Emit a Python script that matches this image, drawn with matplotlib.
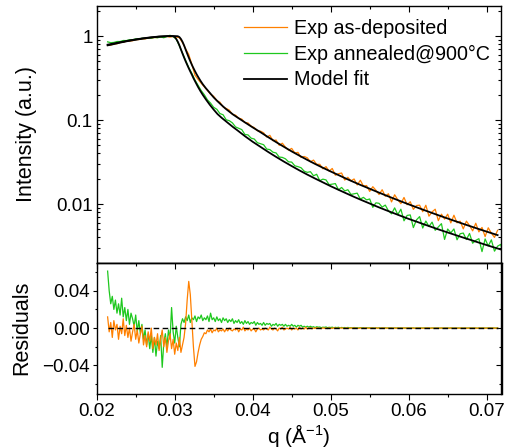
import numpy as np
import matplotlib
matplotlib.use("Agg")
import matplotlib.pyplot as plt
from matplotlib.ticker import MultipleLocator, LogLocator, FixedLocator, NullFormatter, FuncFormatter

# ---------------- data ----------------
q_start = 0.0214
q_step = 0.0004          # grid of the intensity data
q_step_res = 0.0002      # grid of the residuals
n_orange = 126
n_green = 129
n_res = 251

# experimental intensities, log10(I)
orange_log10_I = [
    -0.105, -0.108, -0.094, -0.092, -0.077, -0.074, -0.060, -0.059, -0.056, -0.043,
    -0.042, -0.033, -0.034, -0.025, -0.025, -0.017, -0.018, -0.008, -0.011, -0.005,
    -0.012, -0.005, -0.012, -0.019, -0.079, -0.152, -0.219, -0.338, -0.466, -0.516,
    -0.562, -0.605, -0.647, -0.693, -0.718, -0.768, -0.788, -0.843, -0.862, -0.882,
    -0.932, -0.942, -0.978, -0.989, -1.030, -1.035, -1.073, -1.090, -1.128, -1.132,
    -1.152, -1.203, -1.182, -1.246, -1.238, -1.301, -1.276, -1.323, -1.358, -1.338,
    -1.393, -1.385, -1.446, -1.434, -1.450, -1.497, -1.477, -1.528, -1.527, -1.581,
    -1.555, -1.608, -1.577, -1.657, -1.639, -1.631, -1.715, -1.682, -1.724, -1.702,
    -1.773, -1.717, -1.787, -1.780, -1.850, -1.794, -1.836, -1.887, -1.830, -1.908,
    -1.878, -1.975, -1.890, -1.949, -1.996, -1.922, -2.009, -1.973, -2.064, -2.018,
    -2.014, -2.092, -2.015, -2.145, -2.094, -2.062, -2.198, -2.121, -2.180, -2.121,
    -2.225, -2.134, -2.224, -2.205, -2.296, -2.204, -2.256, -2.320, -2.229, -2.332,
    -2.279, -2.388, -2.283, -2.347, -2.398, -2.313,
]

green_log10_I = [
    -0.069, -0.079, -0.076, -0.065, -0.065, -0.053, -0.054, -0.044, -0.044, -0.034,
    -0.036, -0.026, -0.030, -0.021, -0.025, -0.016, -0.020, -0.011, -0.020, -0.006,
    0.009, -0.006, -0.036, -0.117, -0.202, -0.290, -0.375, -0.444, -0.524, -0.586,
    -0.650, -0.699, -0.760, -0.799, -0.849, -0.872, -0.923, -0.937, -0.997, -1.008,
    -1.034, -1.082, -1.098, -1.114, -1.172, -1.177, -1.216, -1.226, -1.270, -1.282,
    -1.294, -1.346, -1.352, -1.383, -1.392, -1.441, -1.445, -1.462, -1.498, -1.501,
    -1.545, -1.555, -1.568, -1.609, -1.623, -1.615, -1.664, -1.646, -1.722, -1.704,
    -1.713, -1.770, -1.764, -1.757, -1.831, -1.803, -1.844, -1.830, -1.886, -1.879,
    -1.871, -1.941, -1.921, -1.951, -1.940, -2.040, -1.986, -1.992, -2.037, -2.013,
    -2.081, -2.117, -2.046, -2.126, -2.062, -2.200, -2.136, -2.130, -2.281, -2.189,
    -2.150, -2.286, -2.203, -2.268, -2.216, -2.313, -2.274, -2.234, -2.422, -2.298,
    -2.343, -2.297, -2.426, -2.354, -2.346, -2.423, -2.351, -2.467, -2.433, -2.413,
    -2.567, -2.416, -2.500, -2.427, -2.562, -2.502, -2.481, -2.626, -2.524,
]

# model fits
qA = [0.0214, 0.0220, 0.0230, 0.0240, 0.0250, 0.0260, 0.0270, 0.0280, 0.0290, 0.0300,
      0.0304, 0.0306, 0.0308, 0.0310, 0.0312, 0.0314, 0.0316, 0.0318, 0.0320, 0.0322,
      0.0324, 0.0326, 0.0328, 0.0330, 0.0333, 0.0336, 0.0340, 0.0345, 0.0350, 0.0355,
      0.0360, 0.0365, 0.0370, 0.0375, 0.0380, 0.0390, 0.0400, 0.0410, 0.0420, 0.0430,
      0.0440, 0.0450, 0.0460, 0.0470, 0.0480, 0.0490, 0.0500, 0.0510, 0.0520, 0.0530,
      0.0540, 0.0550, 0.0560, 0.0570, 0.0580, 0.0590, 0.0600, 0.0610, 0.0620, 0.0630,
      0.0640, 0.0650, 0.0660, 0.0670, 0.0680, 0.0690, 0.0700, 0.0710, 0.0714]
IA = [0.775, 0.795, 0.835, 0.872, 0.905, 0.935, 0.962, 0.983, 0.996, 1.000,
      0.995, 0.973, 0.923, 0.855, 0.776, 0.692, 0.619, 0.556, 0.501, 0.455,
      0.416, 0.382, 0.352, 0.327, 0.294, 0.267, 0.239, 0.211, 0.186, 0.167,
      0.151, 0.137, 0.126, 0.116, 0.108, 0.0938, 0.0817, 0.0716, 0.0624, 0.0546,
      0.0480, 0.0423, 0.0376, 0.0335, 0.0300, 0.0270, 0.0244, 0.0221, 0.0200, 0.0182,
      0.0166, 0.0152, 0.0139, 0.01273, 0.0117, 0.01076, 0.00991, 0.00915, 0.00845, 0.00782,
      0.00724, 0.00672, 0.00624, 0.00580, 0.00540, 0.00503, 0.00469, 0.00438, 0.00426]

qB = [0.0214, 0.0220, 0.0230, 0.0240, 0.0250, 0.0260, 0.0270, 0.0280, 0.0290, 0.0294,
      0.0298, 0.0300, 0.0302, 0.0304, 0.0306, 0.0308, 0.0310, 0.0312, 0.0314, 0.0316,
      0.0318, 0.0320, 0.0322, 0.0324, 0.0327, 0.0330, 0.0333, 0.0336, 0.0340, 0.0345,
      0.0350, 0.0355, 0.0360, 0.0367, 0.0375, 0.0380, 0.0390, 0.0400, 0.0410, 0.0420,
      0.0430, 0.0440, 0.0450, 0.0460, 0.0470, 0.0480, 0.0490, 0.0500, 0.0510, 0.0520,
      0.0530, 0.0540, 0.0550, 0.0560, 0.0570, 0.0580, 0.0590, 0.0600, 0.0610, 0.0620,
      0.0630, 0.0640, 0.0650, 0.0660, 0.0670, 0.0680, 0.0690, 0.0700, 0.0710, 0.0720,
      0.0726]
IB = [0.790, 0.810, 0.845, 0.880, 0.912, 0.942, 0.967, 0.987, 0.998, 1.000,
      0.995, 0.973, 0.923, 0.855, 0.776, 0.692, 0.619, 0.556, 0.501, 0.455,
      0.414, 0.378, 0.347, 0.316, 0.279, 0.247, 0.221, 0.1995, 0.176, 0.152,
      0.133, 0.1175, 0.1067, 0.0944, 0.0822, 0.0759, 0.0643, 0.0551, 0.0479, 0.0416,
      0.0364, 0.0320, 0.0283, 0.0251, 0.0224, 0.0201, 0.0181, 0.0163, 0.01476, 0.01339,
      0.01216, 0.01109, 0.01014, 0.00927, 0.00851, 0.00783, 0.00721, 0.00665, 0.00617, 0.00571,
      0.00530, 0.00492, 0.00458, 0.00427, 0.00398, 0.00372, 0.00347, 0.00324, 0.00303, 0.00284,
      0.00272]

# residuals
orange_resid = [
    0.012, -0.004, 0.006, -0.010, 0.008, -0.002, 0.004, -0.012, 0.002, -0.006,
    0.010, -0.008, 0.003, -0.010, 0.000, -0.014, -0.004, 0.004, -0.012, -0.002,
    -0.016, -0.006, 0.002, -0.018, -0.008, -0.020, -0.004, -0.014, 0.000, -0.022,
    -0.010, -0.018, -0.006, -0.024, -0.012, -0.002, -0.020, -0.010, -0.026, -0.014,
    -0.006, -0.022, -0.012, -0.028, -0.016, -0.024, -0.010, -0.026, -0.018, -0.010,
    0.005, 0.030, 0.050, 0.036, 0.008, -0.020, -0.041, -0.036, -0.026, -0.018,
    -0.012, -0.009, -0.005, -0.006, -0.002, -0.004, -0.001, -0.005, -0.002, -0.003,
    0.000, -0.004, -0.002, -0.003, -0.001, -0.004, -0.001, -0.003, 0.000, -0.002,
    -0.003, -0.001, -0.002, 0.000, -0.004, -0.001, -0.002, 0.001, -0.003, -0.001,
    -0.002, 0.000, -0.003, -0.001, -0.001, -0.004, -0.001, 0.000, -0.002, -0.001,
    -0.002, 0.000, -0.001, -0.002, 0.001, -0.001, -0.002, 0.000, -0.001, -0.003,
    0.000, -0.001, 0.001, -0.002, -0.001, 0.000, -0.001, 0.001, -0.002, 0.000,
    -0.001, 0.000, -0.002, 0.001, -0.001, 0.000, -0.001, 0.001, -0.001, 0.000,
    0.0005, -0.0008, 0.0002, -0.0004, 0.0006, -0.0002, 0.0000, -0.0006, 0.0004, -0.0003,
    0.0002, -0.0005, 0.0003, 0.0000, -0.0004, 0.0005, -0.0002, 0.0001, -0.0003, 0.0004,
    -0.0001, 0.0002, -0.0004, 0.0003, 0.0000, -0.0003, 0.0002, -0.0001, 0.0003, -0.0002,
    0.0001, -0.0003, 0.0002, 0.0000, -0.0002, 0.0003, -0.0001, 0.0001, -0.0002, 0.0002,
    0.0000, -0.0002, 0.0003, -0.0001, 0.0001, -0.0002, 0.0002, 0.0000, -0.0001, 0.0002,
    -0.0002, 0.0001, 0.0000, -0.0001, 0.0002, -0.0002, 0.0001, 0.0000, -0.0001, 0.0001,
    0.0002, -0.0001, 0.0000, 0.0001, -0.0002, 0.0001, 0.0000, -0.0001, 0.0001, -0.0001,
    0.0001, 0.0000, -0.0001, 0.0001, -0.0001, 0.0002, 0.0000, -0.0001, 0.0001, 0.0000,
    -0.0001, 0.0001, 0.0000, -0.0001, 0.0001, 0.0000, -0.0001, 0.0001, 0.0000, -0.0001,
    0.0001, 0.0000, -0.0001, 0.0001, 0.0000, -0.0001, 0.0001, 0.0000, -0.0001, 0.0001,
    0.0000, -0.0001, 0.0001, 0.0000, -0.0001, 0.0001, 0.0000, -0.0001, 0.0001, 0.0000,
    -0.0001, 0.0001, 0.0000, -0.0001, 0.0001, 0.0000, -0.0001, 0.0001, 0.0000, -0.0001,
    0.0001,
]
green_resid = [
    0.061, 0.040, 0.026, 0.034, 0.020, 0.030, 0.016, 0.026, 0.014, 0.032,
    0.012, 0.022, 0.008, 0.020, 0.004, 0.016, 0.010, 0.002, 0.014, -0.004,
    0.008, -0.006, 0.004, -0.012, -0.002, -0.018, -0.006, -0.022, -0.008, -0.026,
    -0.010, -0.030, -0.014, -0.022, -0.008, -0.042, -0.016, -0.006, -0.020, -0.002,
    -0.012, 0.022, -0.004, -0.016, 0.002, -0.010, -0.020, 0.004, 0.010, 0.006,
    0.012, 0.008, 0.014, 0.006, 0.011, 0.009, 0.013, 0.007, 0.012, 0.010,
    0.014, 0.008, 0.011, 0.009, 0.013, 0.007, 0.016, 0.009, 0.011, 0.007,
    0.012, 0.008, 0.010, 0.006, 0.011, 0.008, 0.010, 0.006, 0.009, 0.007,
    0.010, 0.005, 0.008, 0.006, 0.009, 0.005, 0.007, 0.004, 0.008, 0.005,
    0.007, 0.004, 0.006, 0.005, 0.007, 0.003, 0.006, 0.004, 0.005, 0.003,
    0.006, 0.003, 0.005, 0.004, 0.005, 0.002, 0.004, 0.003, 0.005, 0.002,
    0.004, 0.003, 0.004, 0.002, 0.004, 0.002, 0.003, 0.002, 0.004, 0.002,
    0.003, 0.001, 0.003, 0.002, 0.003, 0.001, 0.002, 0.001, 0.002, 0.001,
    0.002, 0.001, 0.0015, 0.0005, 0.0015, 0.001, 0.0012, 0.0004, 0.001, 0.0008,
    0.0012, 0.0004, 0.0009, 0.0006, 0.001, 0.0003, 0.0008, 0.0005, 0.0009, 0.0002,
    0.0007, 0.0004, 0.0006, 0.0002, 0.0007, 0.0003, 0.0005, 0.0001, 0.0006, 0.0003,
    0.0004, 0.0001, 0.0005, 0.0002, 0.0004, 0.0000, 0.0004, 0.0002, 0.0003, 0.0001,
    0.0003, 0.0000, 0.0003, 0.0001, 0.0003, 0.0000, 0.0002, 0.0001, 0.0003, 0.0000,
    0.0002, 0.0001, 0.0002, -0.0001, 0.0002, 0.0001, 0.0002, 0.0000, 0.0002, 0.0000,
    0.0001, 0.0002, 0.0000, 0.0001, 0.0001, 0.0000, 0.0002, -0.0001, 0.0001, 0.0001,
    0.0000, 0.0001, 0.0001, 0.0000, 0.0001, 0.0000, 0.0001, -0.0001, 0.0001, 0.0000,
    0.0001, 0.0000, 0.0001, 0.0000, 0.0001, -0.0001, 0.0001, 0.0000, 0.0001, 0.0000,
    0.0001, 0.0000, 0.0000, 0.0001, 0.0000, 0.0001, -0.0001, 0.0001, 0.0000, 0.0001,
    0.0000, 0.0001, 0.0000, 0.0000, 0.0001, 0.0000, 0.0001, -0.0001, 0.0001, 0.0000,
    0.0001, 0.0000, 0.0000, 0.0001, 0.0000, 0.0001, 0.0000, 0.0000, 0.0001, 0.0000,
    0.0001,
]

labels = ["Exp as-deposited", "Exp annealed@900°C", "Model fit"]
y_major = [0.01, 0.1, 1]

ORANGE = "#FF8000"
GREEN = "#1EC81E"

# ---------------- figure ----------------
plt.rcParams["font.family"] = ["Liberation Sans", "DejaVu Sans"]
plt.rcParams["mathtext.fontset"] = "custom"
plt.rcParams["mathtext.rm"] = "Liberation Sans"
plt.rcParams["mathtext.it"] = "Liberation Sans:italic"
plt.rcParams["axes.linewidth"] = 1.0

q_orange = np.round(q_start + q_step * np.arange(n_orange), 5)
q_green = np.round(q_start + q_step * np.arange(n_green), 5)
q_res = np.round(q_start + q_step_res * np.arange(n_res), 5)

TICK_FS = 13.5
LEG_FS = 14.2
LAB_FS = 15.5

W, H = 510, 448
fig = plt.figure(figsize=(W / 100, H / 100), dpi=100)
xl, xr = 96.7 / W, 501.5 / W
y_top, y_mid, y_bot = 6.0, 262.7, 393.5
ax1 = fig.add_axes([xl, 1 - y_mid / H, xr - xl, (y_mid - y_top) / H])
ax2 = fig.add_axes([xl, 1 - y_bot / H, xr - xl, (y_bot - y_mid) / H])

l1, = ax1.plot(q_orange, 10 ** np.array(orange_log10_I), color=ORANGE, lw=0.9)
l2, = ax1.plot(q_green, 10 ** np.array(green_log10_I), color=GREEN, lw=0.9)
l3, = ax1.plot(qA, IA, color="black", lw=1.3)
ax1.plot(qB, IB, color="black", lw=1.3)

ax1.set_yscale("log")
ax1.set_xlim(0.02, 0.0719)
ax1.set_ylim(0.002, 2.28)
ax1.yaxis.set_major_locator(FixedLocator(y_major))
ax1.yaxis.set_major_formatter(FuncFormatter(lambda v, p: f"{v:g}"))
ax1.yaxis.set_minor_locator(LogLocator(base=10, subs=np.arange(2, 10)))
ax1.yaxis.set_minor_formatter(NullFormatter())
ax1.xaxis.set_major_locator(MultipleLocator(0.01))
ax1.xaxis.set_minor_locator(MultipleLocator(0.005))
ax1.tick_params(which="both", direction="in", top=True, right=True, bottom=False,
                labelbottom=False, width=0.8)
ax1.tick_params(which="major", length=4.0, labelsize=TICK_FS, pad=3)
ax1.tick_params(which="minor", length=2.2)
ax1.set_ylabel("Intensity (a.u.)", fontsize=LAB_FS)
ax1.yaxis.set_label_coords(-0.1475, 0.5)

ax1.legend([l1, l2, l3], labels, loc="upper right", bbox_to_anchor=(0.972, 0.948),
           frameon=False, fontsize=LEG_FS, handlelength=2.2, handletextpad=0.35,
           labelspacing=0.33, borderpad=0, borderaxespad=0)

# residuals
ax2.plot(q_res, green_resid, color=GREEN, lw=0.9)
ax2.plot(q_res, orange_resid, color=ORANGE, lw=0.9)
ax2.hlines(0, q_res[0], q_res[-1], colors="black", linestyles=(0, (4, 2.5)), lw=1.0)
ax2.set_xlim(0.02, 0.0719)
ax2.set_ylim(-0.07, 0.07)
ax2.xaxis.set_major_locator(MultipleLocator(0.01))
ax2.xaxis.set_minor_locator(MultipleLocator(0.005))
ax2.xaxis.set_major_formatter(FuncFormatter(lambda v, p: f"{v:.2f}"))
ax2.yaxis.set_major_locator(MultipleLocator(0.04))
ax2.yaxis.set_minor_locator(MultipleLocator(0.02))
ax2.yaxis.set_major_formatter(
    FuncFormatter(lambda v, p: ("%.2f" % (0.0 if abs(v) < 1e-9 else v)).replace("-", "\u2212")))
ax2.tick_params(which="both", direction="out", top=False, right=False, width=0.8,
                labelsize=TICK_FS)
ax2.tick_params(axis="x", which="major", length=4.3, pad=2.5)
ax2.tick_params(axis="x", which="minor", length=2.2)
ax2.tick_params(axis="y", which="major", length=3.0, pad=1.8)
ax2.tick_params(axis="y", which="minor", length=1.8)

secx = ax2.secondary_xaxis("top")
secx.xaxis.set_major_locator(MultipleLocator(0.01))
secx.xaxis.set_minor_locator(MultipleLocator(0.005))
secx.tick_params(which="both", direction="in", labeltop=False, width=0.8)
secx.tick_params(which="major", length=4.0)
secx.tick_params(which="minor", length=2.2)

secy = ax2.secondary_yaxis("right")
secy.yaxis.set_major_locator(MultipleLocator(0.04))
secy.yaxis.set_minor_locator(MultipleLocator(0.02))
secy.tick_params(which="both", direction="in", labelright=False, width=0.8)
secy.tick_params(which="major", length=4.0)
secy.tick_params(which="minor", length=2.2)

ax2.set_ylabel("Residuals", fontsize=LAB_FS)
ax2.yaxis.set_label_coords(-0.160, 0.5)
ax2.set_xlabel("q (Å$^{-1}$)", fontsize=15)
ax2.xaxis.set_label_coords(0.5, -0.217)

fig.savefig("out.png", dpi=100)
